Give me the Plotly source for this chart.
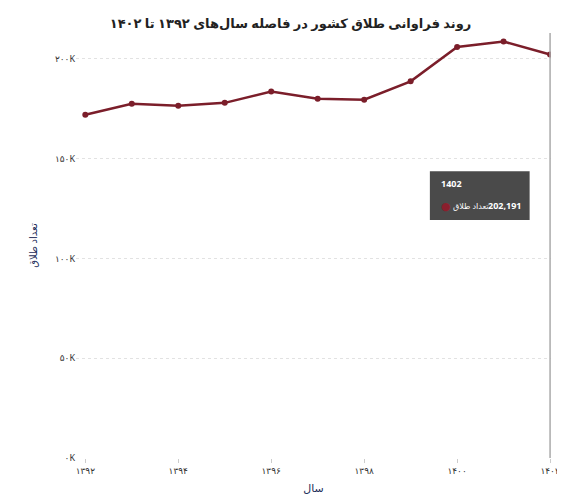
import plotly.graph_objects as go

years = [1392, 1393, 1394, 1395, 1396, 1397, 1398, 1399, 1400, 1401, 1402]
divorces = [172000, 177500, 176500, 178000, 183700, 180000, 179600, 188800, 206000, 208700, 202191]
xtick_vals = [1392, 1394, 1396, 1398, 1400, 1402]
xtick_text = ["۱۳۹۲", "۱۳۹۴", "۱۳۹۶", "۱۳۹۸", "۱۴۰۰", "۱۴۰۲"]
ytick_vals = [0, 50000, 100000, 150000, 200000]
ytick_text = ["۰K", "۵۰K", "۱۰۰K", "۱۵۰K", "۲۰۰K"]

color = "#7b1e2a"
fig = go.Figure(go.Scatter(x=years, y=divorces, mode="lines+markers",
                           line=dict(color=color, width=2.5),
                           marker=dict(color=color, size=6)))
fig.update_layout(
    width=565, height=496, paper_bgcolor="white", plot_bgcolor="white",
    margin=dict(l=68, r=22, t=25, b=46), showlegend=False,
    font=dict(family="Noto Sans, DejaVu Sans", size=9, color="#333"),
    title=dict(text="<b>روند فراوانی طلاق کشور در فاصله سال‌های ۱۳۹۲ تا ۱۴۰۲</b>",
               x=0.5, xanchor="center", y=0.978, font=dict(size=13, color="#222")),
    xaxis=dict(range=[1391.8, 1402.02], tickvals=xtick_vals, ticktext=xtick_text,
               showgrid=False, ticks="outside", ticklen=4, tickcolor="#ccc",
               showline=False, title=dict(text="سال", font=dict(size=11, color="#1d2d5a"), standoff=8)),
    yaxis=dict(range=[0, 213000], tickvals=ytick_vals, ticktext=ytick_text,
               gridcolor="#e2e2e2", griddash="dot", zeroline=False,
               title=dict(text="تعداد طلاق", font=dict(size=10, color="#1d2d5a"))),
    shapes=[dict(type="line", xref="x", yref="paper", x0=1402, x1=1402, y0=0, y1=1,
                 line=dict(color="#aaa", width=1.5)),
            dict(type="rect", xref="paper", yref="paper", x0=0.745, x1=0.955, y0=0.56, y1=0.675,
                 fillcolor="#4a4a4a", line=dict(width=0))],
    annotations=[
        dict(xref="paper", yref="paper", x=0.765, y=0.645, xanchor="left", yanchor="middle",
             showarrow=False, text="<b>1402</b>", font=dict(color="white", size=9)),
        dict(xref="paper", yref="paper", x=0.765, y=0.595, xanchor="left", yanchor="middle",
             showarrow=False, text="●", font=dict(color="#8a1f2d", size=11)),
        dict(xref="paper", yref="paper", x=0.79, y=0.595, xanchor="left", yanchor="middle",
             showarrow=False, text="تعداد طلاق", font=dict(color="white", size=8)),
        dict(xref="paper", yref="paper", x=0.94, y=0.595, xanchor="right", yanchor="middle",
             showarrow=False, text="<b>202,191</b>", font=dict(color="white", size=9)),
    ]
)
fig.write_html("out.html")
